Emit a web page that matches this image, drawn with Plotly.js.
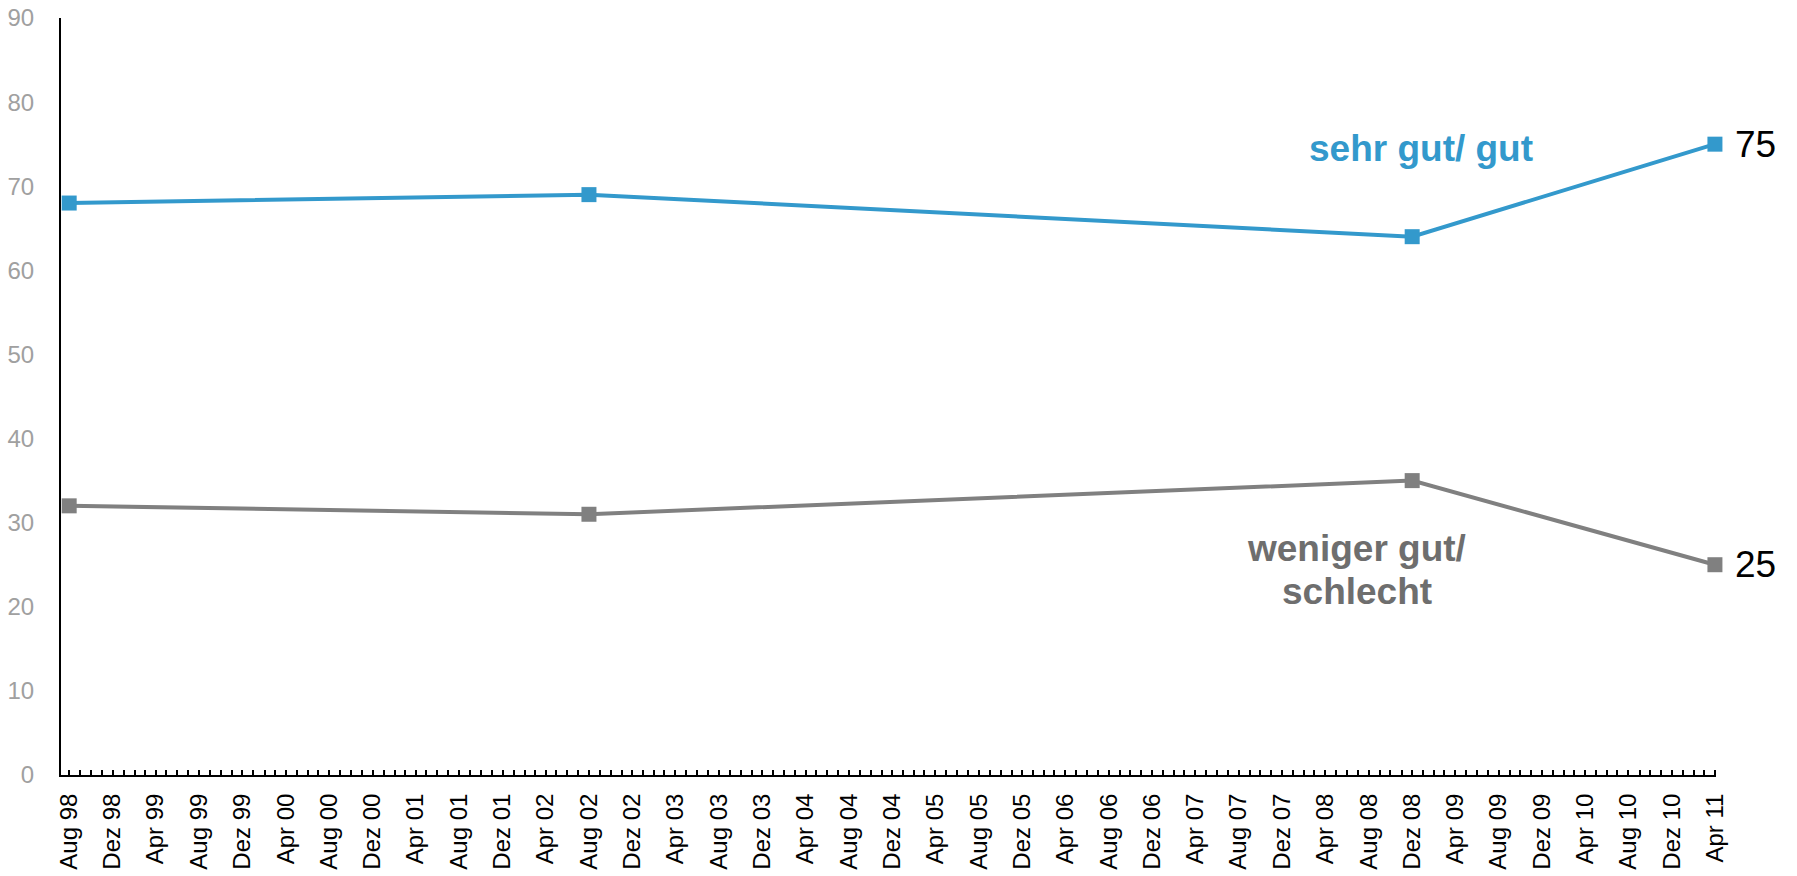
<!DOCTYPE html>
<html>
<head>
<meta charset="utf-8">
<script src="https://cdn.plot.ly/plotly-3.0.1.min.js"></script>
<style>
html,body{margin:0;padding:0;background:#fff;}
#chart{width:1797px;height:876px;}
</style>
</head>
<body>
<div id="chart"></div>
<script>
// Survey dates (first of month)
const dates = ['1998-08-01', '2002-08-01', '2008-12-01', '2011-04-01'];
// Series values (%)
const sehrGutGut = [68, 69, 64, 75];
const wenigerGutSchlecht = [32, 31, 35, 25];

// X tick positions (every 4 months) and German labels
const tickDates = [
  '1998-08-01','1998-12-01','1999-04-01','1999-08-01','1999-12-01',
  '2000-04-01','2000-08-01','2000-12-01','2001-04-01','2001-08-01','2001-12-01',
  '2002-04-01','2002-08-01','2002-12-01','2003-04-01','2003-08-01','2003-12-01',
  '2004-04-01','2004-08-01','2004-12-01','2005-04-01','2005-08-01','2005-12-01',
  '2006-04-01','2006-08-01','2006-12-01','2007-04-01','2007-08-01','2007-12-01',
  '2008-04-01','2008-08-01','2008-12-01','2009-04-01','2009-08-01','2009-12-01',
  '2010-04-01','2010-08-01','2010-12-01','2011-04-01'
];
const tickLabels = [
  'Aug 98','Dez 98','Apr 99','Aug 99','Dez 99',
  'Apr 00','Aug 00','Dez 00','Apr 01','Aug 01','Dez 01',
  'Apr 02','Aug 02','Dez 02','Apr 03','Aug 03','Dez 03',
  'Apr 04','Aug 04','Dez 04','Apr 05','Aug 05','Dez 05',
  'Apr 06','Aug 06','Dez 06','Apr 07','Aug 07','Dez 07',
  'Apr 08','Aug 08','Dez 08','Apr 09','Aug 09','Dez 09',
  'Apr 10','Aug 10','Dez 10','Apr 11'
];
const yTicks = [0, 10, 20, 30, 40, 50, 60, 70, 80, 90];

const blue = '#3399cc';
const grey = '#808080';
const font = 'Liberation Sans, Arial, sans-serif';

const traces = [
  {
    x: dates, y: sehrGutGut, type: 'scatter', mode: 'lines+markers',
    line: {color: blue, width: 4},
    marker: {color: blue, symbol: 'square', size: 15},
    cliponaxis: false, hoverinfo: 'x+y', name: 'sehr gut/ gut'
  },
  {
    x: dates, y: wenigerGutSchlecht, type: 'scatter', mode: 'lines+markers',
    line: {color: grey, width: 4},
    marker: {color: grey, symbol: 'square', size: 15},
    cliponaxis: false, hoverinfo: 'x+y', name: 'weniger gut/ schlecht'
  }
];

const layout = {
  width: 1797, height: 876,
  margin: {l: 61, r: 81, t: 18, b: 101},
  paper_bgcolor: '#fff', plot_bgcolor: '#fff',
  showlegend: false,
  font: {family: font},
  xaxis: {
    type: 'date',
    range: ['1998-07-09', '2011-04-04'],
    tickmode: 'array', tickvals: tickDates, ticktext: tickLabels,
    tickangle: -90,
    tickfont: {size: 24, color: '#000', family: font},
    ticklabelstandoff: 7,
    ticks: 'inside', ticklen: 5, tickwidth: 2, tickcolor: '#000',
    minor: {dtick: 'M1', tick0: '1998-08-01', ticks: 'inside', ticklen: 5, tickwidth: 2, tickcolor: '#000', showgrid: false},
    showline: true, linecolor: '#000', linewidth: 2,
    showgrid: false, zeroline: false, fixedrange: true
  },
  yaxis: {
    range: [0, 90],
    tickmode: 'array', tickvals: yTicks,
    tickfont: {size: 24, color: '#a0a0a0', family: font},
    ticks: '', ticklabelstandoff: 20,
    showline: true, linecolor: '#000', linewidth: 2,
    showgrid: false, zeroline: false, fixedrange: true
  },
  annotations: [
    {xref: 'paper', yref: 'paper', x: 0.822, y: 0.827, xanchor: 'center', yanchor: 'middle',
     text: '<b>sehr gut/ gut</b>', showarrow: false, font: {size: 37, color: blue, family: font}},
    {xref: 'paper', yref: 'paper', x: 0.783, y: 0.299, xanchor: 'center', yanchor: 'middle',
     text: '<b>weniger gut/</b>', showarrow: false, font: {size: 37, color: '#6e6e6e', family: font}},
    {xref: 'paper', yref: 'paper', x: 0.783, y: 0.243, xanchor: 'center', yanchor: 'middle',
     text: '<b>schlecht</b>', showarrow: false, font: {size: 37, color: '#6e6e6e', family: font}},
    {xref: 'paper', yref: 'y', x: 1.010, y: sehrGutGut[3], xanchor: 'left', yanchor: 'middle',
     text: String(sehrGutGut[3]), showarrow: false, font: {size: 37, color: '#000', family: font}},
    {xref: 'paper', yref: 'y', x: 1.010, y: wenigerGutSchlecht[3], xanchor: 'left', yanchor: 'middle',
     text: String(wenigerGutSchlecht[3]), showarrow: false, font: {size: 37, color: '#000', family: font}}
  ]
};

Plotly.newPlot('chart', traces, layout, {displayModeBar: false, staticPlot: true});
</script>
</body>
</html>
